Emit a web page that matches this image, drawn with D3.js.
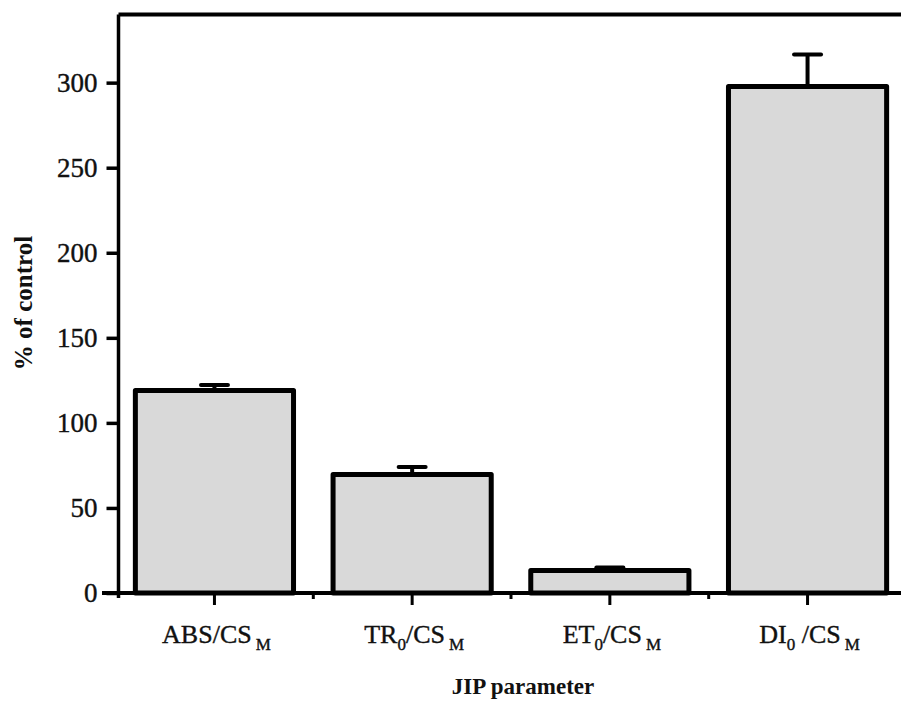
<!DOCTYPE html>
<html>
<head>
<meta charset="utf-8">
<script src="https://cdn.jsdelivr.net/npm/d3@7"></script>
<style>
    body { margin: 0; background: #fff; }
    svg { display: block; }
    text { font-family: "Liberation Serif", "DejaVu Serif", serif; fill: #111; }
</style>
</head>
<body>
<svg id="jipChart" width="901" height="702"></svg>
<script>
// values (% of control)
const categories = ["ABS/CSM", "TR0/CSM", "ET0/CSM", "DI0/CSM"];
const values = [119, 69.6, 13.2, 297.7];
const errors = [3.2, 4.4, 1.8, 18.8];
const yTicks = [0, 50, 100, 150, 200, 250, 300];
// label pieces: [text, isSubscript]
const labelParts = [
    [["ABS/CS", false], ["M", true]],
    [["TR", false], ["0", true], ["/CS", false], ["M", true]],
    [["ET", false], ["0", true], ["/CS", false], ["M", true]],
    [["DI", false], ["0", true], [" /CS", false], ["M", true]]
];
const yTitle = "% of control";
const xTitle = "JIP parameter";

const svg = d3.select("#jipChart");
const W = 901;

const x = d3.scaleBand()
    .domain(categories)
    .range([115.6, 906.4])
    .paddingInner(0.2)
    .paddingOuter(0.1);

const y = d3.scaleLinear()
    .domain([0, 340])
    .range([593, 14.6]);

const axisX = 118.5;

// top frame line
svg.append("line")
    .attr("x1", axisX).attr("x2", W)
    .attr("y1", y(340)).attr("y2", y(340))
    .attr("stroke", "#000").attr("stroke-width", 4);

// bars
svg.selectAll(".bar")
    .data(categories)
    .enter().append("rect")
    .attr("class", "bar")
    .attr("x", d => x(d))
    .attr("width", x.bandwidth())
    .attr("y", (d, i) => y(values[i]))
    .attr("height", (d, i) => y(0) - y(values[i]))
    .attr("fill", "#d9d9d9")
    .attr("stroke", "#000")
    .attr("stroke-width", 5)
    .attr("stroke-linejoin", "round");

// error bars (upper only)
const errG = svg.selectAll(".err")
    .data(categories)
    .enter().append("g")
    .attr("class", "err")
    .attr("transform", d => `translate(${x(d) + x.bandwidth() / 2},0)`);

errG.append("line")
    .attr("y1", (d, i) => y(values[i]) - 2)
    .attr("y2", (d, i) => y(values[i] + errors[i]))
    .attr("stroke", "#000").attr("stroke-width", 4);

errG.append("line")
    .attr("x1", -13.5).attr("x2", 13.5)
    .attr("y1", (d, i) => y(values[i] + errors[i]))
    .attr("y2", (d, i) => y(values[i] + errors[i]))
    .attr("stroke", "#000").attr("stroke-width", 4)
    .attr("stroke-linecap", "round");

// x axis line
svg.append("line")
    .attr("x1", 102).attr("x2", W)
    .attr("y1", y(0)).attr("y2", y(0))
    .attr("stroke", "#000").attr("stroke-width", 4);

// category ticks
svg.selectAll(".xtick")
    .data(categories)
    .enter().append("line")
    .attr("class", "xtick")
    .attr("x1", d => x(d) + x.bandwidth() / 2)
    .attr("x2", d => x(d) + x.bandwidth() / 2)
    .attr("y1", y(0)).attr("y2", y(0) + 12)
    .attr("stroke", "#000").attr("stroke-width", 3);

// short ticks between categories
svg.selectAll(".xminor")
    .data(categories.slice(1))
    .enter().append("line")
    .attr("class", "xminor")
    .attr("x1", d => x(d) + x.bandwidth() / 2 - x.step() / 2)
    .attr("x2", d => x(d) + x.bandwidth() / 2 - x.step() / 2)
    .attr("y1", y(0)).attr("y2", y(0) + 6)
    .attr("stroke", "#000").attr("stroke-width", 3);

// category labels with subscripts
const labels = svg.selectAll(".xlabel")
    .data(categories)
    .enter().append("text")
    .attr("class", "xlabel")
    .attr("x", d => x(d) + x.bandwidth() / 2 + 2)
    .attr("y", 643)
    .attr("text-anchor", "middle")
    .attr("stroke", "#111").attr("stroke-width", 0.4)
    .style("font-size", "26px");

labels.each(function (d, i) {
    const t = d3.select(this);
    let wasSub = false;
    labelParts[i].forEach(([txt, sub], j) => {
        const span = t.append("tspan").text(txt);
        if (sub && !wasSub) span.attr("dy", 7);
        if (!sub && wasSub) span.attr("dy", -7);
        if (sub) span.style("font-size", "17px");
        if (sub && j === labelParts[i].length - 1) span.attr("dx", 4);
        wasSub = sub;
    });
});

// y axis
const gy = svg.append("g")
    .attr("transform", `translate(${axisX},0)`)
    .call(d3.axisLeft(y).tickValues(yTicks).tickSize(12).tickSizeOuter(0).tickPadding(9));

gy.select(".domain").attr("stroke", "#000").attr("stroke-width", 3.5)
    .attr("d", `M0,${y(340)}V${y(0) + 5}`);
gy.selectAll(".tick line").attr("stroke", "#000").attr("stroke-width", 3.5);
gy.selectAll(".tick text")
    .style("font-family", "'Liberation Serif', serif")
    .style("font-size", "27px")
    .attr("fill", "#111")
    .attr("stroke", "#111").attr("stroke-width", 0.4);

// axis titles
svg.append("text")
    .attr("transform", "translate(32,303) rotate(-90)")
    .attr("text-anchor", "middle")
    .style("font-size", "25px")
    .style("font-weight", "bold")
    .text(yTitle);

svg.append("text")
    .attr("x", 523)
    .attr("y", 694)
    .attr("text-anchor", "middle")
    .style("font-size", "23px")
    .style("font-weight", "bold")
    .text(xTitle);
</script>
</body>
</html>
